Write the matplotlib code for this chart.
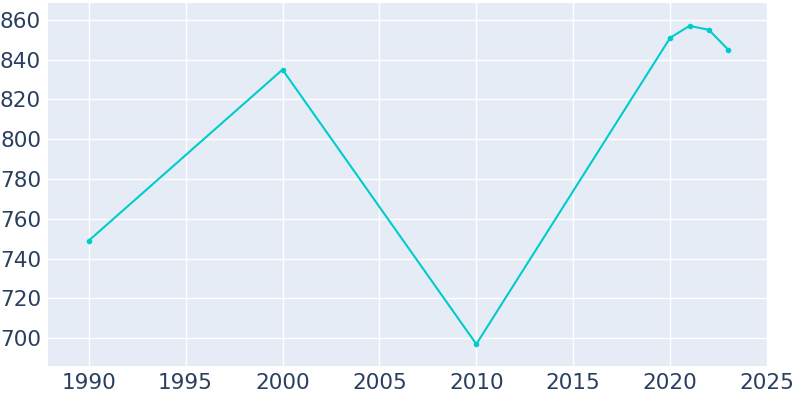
import matplotlib.pyplot as plt

years = [1990, 2000, 2010, 2020, 2021, 2022, 2023]
population = [749, 835, 697, 851, 857, 855, 845]
x_ticks = [1990, 1995, 2000, 2005, 2010, 2015, 2020, 2025]
y_ticks = [700, 720, 740, 760, 780, 800, 820, 840, 860]

fig = plt.figure(figsize=(8, 4), dpi=100)
ax = fig.add_axes([0.06, 0.085, 0.9, 0.9075])
ax.set_facecolor("#e5ecf6")

ax.plot(years, population, color="#00cccc", linewidth=1.5,
        marker="o", markersize=3, zorder=3)

ax.set_xlim(1987.9, 2025.05)
ax.set_ylim(686, 868.5)
ax.set_xticks(x_ticks)
ax.set_yticks(y_ticks)
ax.grid(color="white", linewidth=1)
ax.set_axisbelow(True)
for s in ax.spines.values():
    s.set_visible(False)
ax.tick_params(length=0, labelsize=15.5, labelcolor="#2a3f5f", pad=5)

fig.savefig("out.png")
